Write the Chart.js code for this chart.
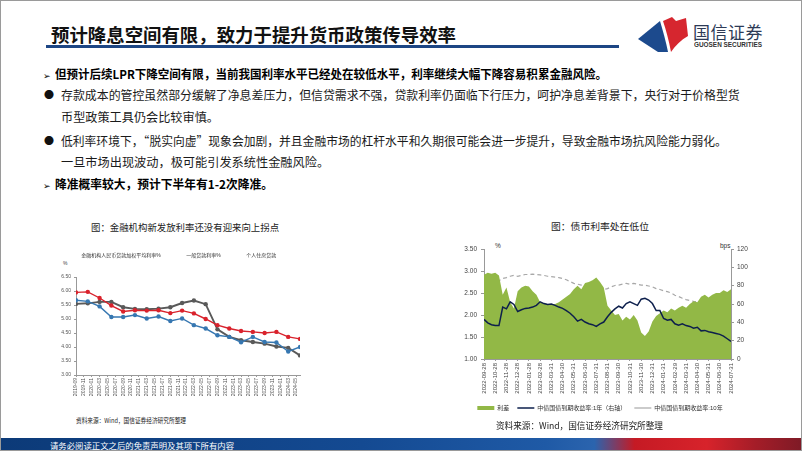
<!DOCTYPE html>
<html>
<head>
<meta charset="utf-8">
<script src="https://cdn.jsdelivr.net/npm/chart.js@4.4.0/dist/chart.umd.min.js"></script>
<style>
  body { margin: 0; background: #fff; font-family: "Noto Sans CJK SC", sans-serif; }
  #slide { position: relative; width: 802px; height: 451px; overflow: hidden; box-sizing: border-box; border: 1px solid #9a9a9a; background: #fff; }
  .abs { position: absolute; white-space: nowrap; }
  .fit { transform-origin: 0 50%; }
  #title { left: 50px; top: 21px; height: 24px; line-height: 24px; font-size: 18.5px; font-weight: bold; color: #111; }
  #rule { left: 45px; top: 44px; width: 573px; height: 3px; background: #1d4684; }
  .txt { font-size: 12.2px; color: #1a1a1a; height: 20px; line-height: 20px; }
  .bold { font-weight: bold; color: #000; }
  .arrow { font-family: "DejaVu Sans", sans-serif; font-size: 9px; font-weight: normal; }
  .dot { font-size: 10px; color: #111; }
  .ctitle { font-size: 9.6px; color: #222; height: 14px; line-height: 14px; }
  .src { color: #222; }
  #footer { left: 0; top: 437px; width: 802px; height: 14px;
    background: linear-gradient(90deg, #0c3a78 0%, #144a92 45%, #1f5aa6 68%, #2b64ae 74%, #c51a24 79%, #d7232b 88%, #a51d28 94%, #7d1a26 100%); }
  #foottext { left: 49px; top: 437px; height: 14px; line-height: 14px; font-size: 8.5px; color: #fff; }
  canvas { position: absolute; }
</style>
</head>
<body>
<div id="slide">
  <div class="abs fit" id="title" data-w="405">预计降息空间有限，致力于提升货币政策传导效率</div>
  <div class="abs" id="rule"></div>

  <svg class="abs" style="left:634px;top:14px" width="56" height="40" viewBox="634 14 56 40">
    <path d="M637,38 L659,20 C662,30 665,41 667,51 L657,51 Z" fill="#1c4a8d"/>
    <path d="M662,20 L671,16 L675,20 L685,17 L687,35 C680,39 674,45 670,51 C668,40 665,29 662,20 Z" fill="#d6262f"/>
  </svg>
  <div class="abs" style="left:692px;top:20px;height:22px;line-height:22px;font-size:17px;color:#2d3a56;letter-spacing:0.5px">国信证券</div>
  <div class="abs fit" data-w="68" style="left:693px;top:39px;height:10px;line-height:10px;font-size:7px;font-weight:bold;color:#333;font-family:'Liberation Sans Narrow','Liberation Sans',sans-serif">GUOSEN SECURITIES</div>

  <div class="abs txt bold" style="left:42px;top:63px"><span class="arrow">➢</span></div>
  <div class="abs txt bold fit" data-w="552" style="left:54px;top:63px">但预计后续LPR下降空间有限，当前我国利率水平已经处在较低水平，利率继续大幅下降容易积累金融风险。</div>

  <div class="abs txt dot" style="left:43px;top:84px">●</div>
  <div class="abs txt fit" data-w="679" style="left:60px;top:84px">存款成本的管控虽然部分缓解了净息差压力，但信贷需求不强，贷款利率仍面临下行压力，呵护净息差背景下，央行对于价格型货</div>
  <div class="abs txt fit" data-w="158" style="left:60px;top:106px">币型政策工具仍会比较审慎。</div>

  <div class="abs txt dot" style="left:43px;top:130px">●</div>
  <div class="abs txt fit" data-w="666" style="left:60px;top:130px">低利率环境下，“脱实向虚”现象会加剧，并且金融市场的杠杆水平和久期很可能会进一步提升，导致金融市场抗风险能力弱化。</div>
  <div class="abs txt fit" data-w="268" style="left:60px;top:151px">一旦市场出现波动，极可能引发系统性金融风险。</div>

  <div class="abs txt bold" style="left:42px;top:173px"><span class="arrow">➢</span></div>
  <div class="abs txt bold fit" data-w="218" style="left:54px;top:173px">降准概率较大，预计下半年有1-2次降准。</div>

  <div class="abs ctitle fit" data-w="188" style="left:90px;top:219px">图：金融机构新发放利率还没有迎来向上拐点</div>
  <div class="abs ctitle fit" data-w="98" style="left:550px;top:218px">图：债市利率处在低位</div>

  <div class="abs" style="left:62px;top:259px;font-size:5px;color:#444;font-family:'Liberation Sans',sans-serif">%</div>
  <div class="abs" style="left:494px;top:241px;font-size:6.5px;color:#333;font-family:'Liberation Sans',sans-serif">%</div>
  <div class="abs" style="left:719px;top:241px;font-size:6.5px;color:#333;font-family:'Liberation Sans',sans-serif">bps</div>

  <canvas id="leftChart" width="268" height="162" style="left:40px;top:243px"></canvas>
  <canvas id="rightChart" width="318" height="184" style="left:440px;top:236px"></canvas>

  <div class="abs src fit" data-w="110" style="left:75px;top:414px;height:10px;line-height:10px;font-size:6.5px">资料来源：Wind，国信证券经济研究所整理</div>
  <div class="abs src fit" data-w="167" style="left:495px;top:419px;height:12px;line-height:12px;font-size:9px">资料来源：Wind，国信证券经济研究所整理</div>

  <div class="abs" id="footer"></div>
  <div class="abs fit" id="foottext" data-w="184">请务必阅读正文之后的免责声明及其项下所有内容</div>
</div>

<script>
// ---- left chart: 金融机构新发放利率 (quarterly) ----
var quarterLabels = ["2019-09","2019-12","2020-03","2020-06","2020-09","2020-12","2021-03","2021-06","2021-09","2021-12",
  "2022-03","2022-06","2022-09","2022-12","2023-03","2023-06","2023-09","2023-12","2024-03","2024-06"];
var avgLoanRate = [5.67,5.63,5.45,5.07,5.07,5.14,5.02,5.09,4.93,5.02,4.78,4.66,4.42,4.36,4.17,4.36,4.18,4.16,3.84,4.00];
var generalLoanRate = [5.95,5.97,5.75,5.48,5.27,5.31,5.30,5.31,5.21,5.30,5.20,5.00,4.78,4.66,4.57,4.54,4.50,4.54,4.36,4.29];
var mortgageRate = [5.54,5.56,5.61,5.61,5.42,5.36,5.35,5.37,5.42,5.57,5.66,5.53,4.63,4.36,4.24,4.18,4.12,4.02,3.97,3.70];
var leftTickLabels = ["2019-09","2019-11","2020-01","2020-03","2020-05","2020-07","2020-09","2020-11","2021-01","2021-03",
  "2021-05","2021-07","2021-09","2021-11","2022-01","2022-03","2022-05","2022-07","2022-09","2022-11",
  "2023-01","2023-03","2023-05","2023-07","2023-09","2023-11","2024-01","2024-03","2024-05"];

// ---- right chart: 债市利率 (about three readings a month) ----
var rightTickLabels = ["2022-09-28","2022-10-28","2022-11-28","2022-12-28","2023-01-28","2023-02-28","2023-03-31","2023-04-30",
  "2023-05-31","2023-06-30","2023-07-31","2023-08-31","2023-09-30","2023-10-31","2023-11-30","2023-12-31",
  "2024-01-31","2024-02-29","2024-03-31","2024-04-30","2024-05-31","2024-06-30","2024-07-31"];
var spreadBps = [92,94,93,94,91,70,78,62,55,74,78,80,79,74,70,62,61,60,60,60,62,65,68,71,76,80,76,83,84,86,89,84,78,
  58,53,48,49,42,46,43,48,42,29,25,30,41,47,50,53,51,55,53,56,58,56,60,63,62,68,70,67,70,72,72,75,73,76];
var oneYearYield = [1.90,1.82,1.78,1.76,1.76,2.18,2.14,2.30,2.24,2.08,2.12,2.15,2.16,2.18,2.22,2.30,2.26,2.24,2.25,2.22,
  2.18,2.15,2.10,2.04,1.96,1.86,1.90,1.84,1.80,1.78,1.74,1.80,1.84,1.96,2.06,2.14,2.20,2.16,2.26,2.30,2.26,2.22,
  2.36,2.38,2.34,2.26,2.10,2.10,1.92,1.88,1.90,1.80,1.77,1.80,1.76,1.74,1.70,1.72,1.64,1.65,1.62,1.60,1.58,1.56,1.52,1.46,1.40];
var tenYearYield = [2.65,2.68,2.70,2.72,2.78,2.83,2.85,2.88,2.90,2.88,2.90,2.92,2.92,2.93,2.92,2.91,2.90,2.88,2.87,2.86,
  2.85,2.83,2.80,2.76,2.72,2.70,2.68,2.66,2.64,2.63,2.62,2.60,2.58,2.60,2.64,2.67,2.68,2.70,2.72,2.70,2.72,2.70,
  2.68,2.68,2.66,2.64,2.60,2.58,2.55,2.53,2.50,2.45,2.42,2.38,2.35,2.33,2.31,2.30,2.28,2.30,2.28,2.30,2.30,2.27,2.26,2.25,2.22];

Chart.defaults.font.family = "'Liberation Sans', 'Noto Sans CJK SC', sans-serif";
Chart.defaults.color = "#444";

function lineLegend(chart) {
  return Chart.defaults.plugins.legend.labels.generateLabels(chart).map(function (l) {
    l.pointStyle = "line";
    return l;
  });
}

// adds some room between the legend and the plot
var legendGap = {
  id: "legendGap",
  beforeInit: function (chart) {
    var fit = chart.legend.fit;
    chart.legend.fit = function () {
      fit.bind(chart.legend)();
      this.height += 9;
    };
  }
};

var leftSets = [
  { label: "金融机构人民币贷款加权平均利率%", values: avgLoanRate, color: "#3677b1", width: 1.4 },
  { label: "一般贷款利率%", values: generalLoanRate, color: "#d9222c", width: 1.4 },
  { label: "个人住房贷款", values: mortgageRate, color: "#595959", width: 1.9 }
];

new Chart(document.getElementById("leftChart"), {
  type: "line",
  data: {
    datasets: leftSets.map(function (s) {
      return {
        label: s.label,
        data: s.values.map(function (v, i) { return { x: i * 3, y: v }; }),
        borderColor: s.color,
        backgroundColor: s.color,
        borderWidth: s.width,
        pointRadius: 2.2,
        pointBorderWidth: 0,
        tension: 0
      };
    })
  },
  plugins: [legendGap],
  options: {
    responsive: false,
    animation: false,
    layout: { padding: { top: 0, right: 9, left: 0, bottom: 0 } },
    plugins: {
      tooltip: { enabled: false },
      legend: {
        position: "top",
        labels: {
          font: { size: 5 },
          color: "#333",
          usePointStyle: true,
          pointStyleWidth: 14,
          padding: 9,
          generateLabels: lineLegend
        }
      }
    },
    scales: {
      x: {
        type: "linear",
        min: 0,
        max: 57,
        afterBuildTicks: function (s) {
          s.ticks = leftTickLabels.map(function (t, i) { return { value: i * 2 }; });
        },
        afterFit: function (s) { s.height = 31; },
        ticks: {
          autoSkip: false, minRotation: 90, maxRotation: 90, padding: 1,
          font: { size: 5 }, color: "#555",
          callback: function (v) { return leftTickLabels[Math.round(v / 2)]; }
        },
        grid: { drawOnChartArea: false, tickLength: 2, color: "#999" },
        border: { color: "#999" }
      },
      y: {
        min: 3,
        max: 6.5,
        afterFit: function (s) { s.width = 35; },
        ticks: {
          stepSize: 0.5, font: { size: 5 }, color: "#555", padding: 3,
          callback: function (v) { return v.toFixed(2); }
        },
        grid: { drawOnChartArea: false, tickLength: 2, color: "#999" },
        border: { color: "#999" }
      }
    }
  }
});

new Chart(document.getElementById("rightChart"), {
  type: "line",
  data: {
    datasets: [
      {
        label: "利差",
        data: spreadBps.map(function (v, k) { return { x: k / 3, y: v }; }),
        yAxisID: "y1",
        fill: "origin",
        backgroundColor: "#92b846",
        borderColor: "#92b846",
        borderWidth: 0,
        pointRadius: 0,
        pointStyle: "rect",
        order: 2
      },
      {
        label: "中债国债到期收益率:1年（右轴）",
        data: oneYearYield.map(function (v, k) { return { x: k / 3, y: v }; }),
        yAxisID: "y",
        borderColor: "#0d1f4c",
        backgroundColor: "#0d1f4c",
        borderWidth: 1.5,
        pointRadius: 0,
        pointStyle: "line",
        order: 1
      },
      {
        label: "中债国债到期收益率:10年",
        data: tenYearYield.map(function (v, k) { return { x: k / 3, y: v }; }),
        yAxisID: "y",
        borderColor: "#a8a8a8",
        backgroundColor: "#a8a8a8",
        borderWidth: 1.2,
        borderDash: [4, 3],
        pointRadius: 0,
        pointStyle: "line",
        order: 3
      }
    ]
  },
  options: {
    responsive: false,
    animation: false,
    layout: { padding: { top: 12, right: 0, left: 0, bottom: 0 } },
    plugins: {
      tooltip: { enabled: false },
      legend: {
        position: "bottom",
        labels: {
          font: { size: 6 },
          color: "#333",
          usePointStyle: true,
          pointStyleWidth: 17,
          boxHeight: 4,
          padding: 8,
          sort: function (a, b) { return a.datasetIndex - b.datasetIndex; }
        }
      }
    },
    scales: {
      x: {
        type: "linear",
        min: 0,
        max: 22,
        afterBuildTicks: function (s) {
          s.ticks = rightTickLabels.map(function (t, i) { return { value: i }; });
        },
        afterFit: function (s) { s.height = 38; },
        ticks: {
          autoSkip: false, minRotation: 90, maxRotation: 90, padding: 2,
          font: { size: 6 }, color: "#444",
          callback: function (v) { return rightTickLabels[Math.round(v)]; }
        },
        grid: { drawOnChartArea: false, tickLength: 2, color: "#999" },
        border: { color: "#999" }
      },
      y: {
        position: "left",
        min: 1,
        max: 3.5,
        afterFit: function (s) { s.width = 43; },
        ticks: {
          stepSize: 0.5, font: { size: 6.5 }, color: "#444", padding: 4,
          callback: function (v) { return v.toFixed(2); }
        },
        grid: { drawOnChartArea: false, tickLength: 3, color: "#999" },
        border: { color: "#999" }
      },
      y1: {
        position: "right",
        min: 0,
        max: 120,
        afterFit: function (s) { s.width = 28; },
        ticks: { stepSize: 20, font: { size: 6.5 }, color: "#444", padding: 3 },
        grid: { drawOnChartArea: false, tickLength: 3, color: "#999" },
        border: { color: "#999" }
      }
    }
  }
});

// squeeze each text line to the width it has on the slide
document.querySelectorAll(".fit").forEach(function (el) {
  var w = el.getBoundingClientRect().width;
  var target = parseFloat(el.getAttribute("data-w"));
  if (w > 0 && target) el.style.transform = "scaleX(" + (target / w).toFixed(3) + ")";
});
</script>
</body>
</html>
